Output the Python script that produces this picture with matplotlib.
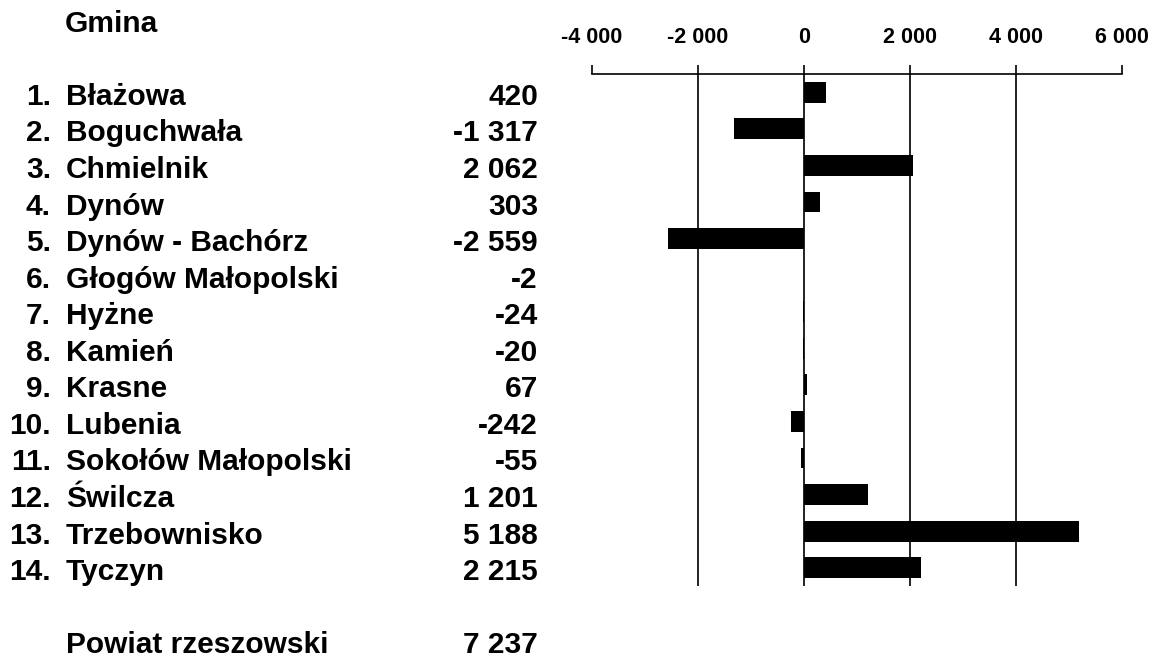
import matplotlib.pyplot as plt
from matplotlib.ticker import FuncFormatter, FixedLocator
from matplotlib.transforms import blended_transform_factory, offset_copy

# data
gminy = ["Błażowa", "Boguchwała", "Chmielnik", "Dynów", "Dynów - Bachórz",
         "Głogów Małopolski", "Hyżne", "Kamień", "Krasne", "Lubenia",
         "Sokołów Małopolski", "Świlcza", "Trzebownisko", "Tyczyn"]
wartosci = [420, -1317, 2062, 303, -2559, -2, -24, -20, 67, -242, -55, 1201, 5188, 2215]
powiat_nazwa = "Powiat rzeszowski"
powiat_wartosc = 7237
ticki = [-4000, -2000, 0, 2000, 4000, 6000]


def fmt(v):
    return f"{int(v):,}".replace(",", " ")


plt.rcParams['font.family'] = ['Liberation Sans', 'DejaVu Sans']

fig = plt.figure(figsize=(11.56, 6.57), dpi=100)
ax = fig.add_axes([0.512, 1 - 586 / 657, 0.4585, 512 / 657])

n = len(gminy)
ax.barh(range(n), wartosci, height=0.57, color='black', zorder=3)
ax.set_ylim(n - 0.5, -0.5)
ax.set_xlim(-4000, 6000)

# grid lines (without the outer ones)
for t in ticki[1:-1]:
    ax.axvline(t, color='#222222', lw=1.4, zorder=1)

for s in ['bottom', 'left', 'right']:
    ax.spines[s].set_visible(False)
ax.spines['top'].set_linewidth(1.2)
ax.set_yticks([])
ax.xaxis.set_major_locator(FixedLocator(ticki))
ax.xaxis.set_major_formatter(FuncFormatter(lambda v, p: fmt(v)))
ax.xaxis.tick_top()
ax.tick_params(axis='x', direction='out', length=6.5, width=1.2, pad=12)
for lab in ax.get_xticklabels():
    lab.set_fontweight('bold')
    lab.set_fontsize(15.5)

fs = 21.5
tr = blended_transform_factory(fig.transFigure, ax.transData)
tr = offset_copy(tr, fig=fig, y=-9, units='points')
for i, (name, val) in enumerate(zip(gminy, wartosci)):
    ax.text(51 / 1156, i, f"{i + 1}.", transform=tr, ha='right', va='baseline',
            fontsize=fs, fontweight='bold')
    ax.text(66 / 1156, i, name, transform=tr, ha='left', va='baseline',
            fontsize=fs, fontweight='bold')
    ax.text(538 / 1156, i, fmt(val), transform=tr, ha='right', va='baseline',
            fontsize=fs, fontweight='bold')

fig.text(65 / 1156, 1 - 32 / 657, "Gmina", ha='left', va='baseline',
         fontsize=fs, fontweight='bold')
fig.text(66 / 1156, 1 - 653 / 657, powiat_nazwa, ha='left', va='baseline',
         fontsize=fs, fontweight='bold')
fig.text(538 / 1156, 1 - 653 / 657, fmt(powiat_wartosc), ha='right', va='baseline',
         fontsize=fs, fontweight='bold')

fig.savefig("out.png", dpi=100, facecolor='white')
